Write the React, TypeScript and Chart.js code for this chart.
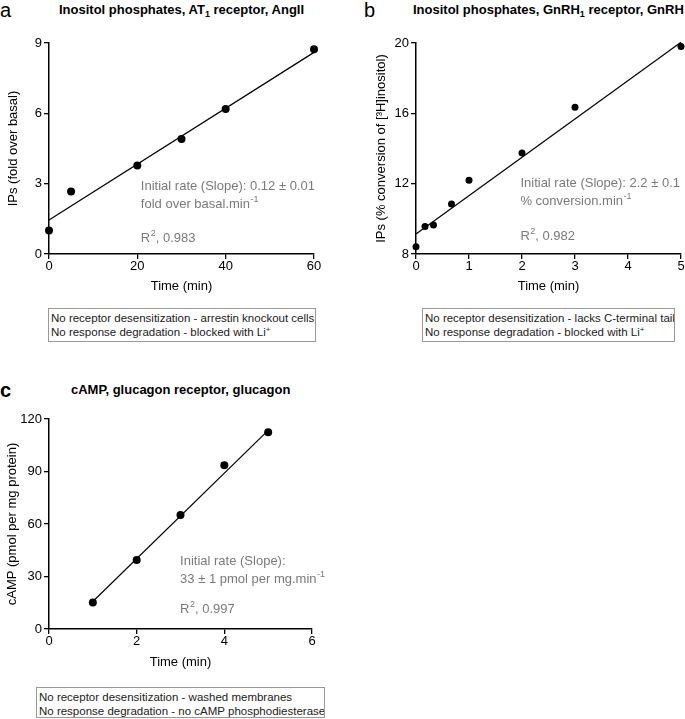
import React, { useEffect, useRef } from "react";
import { Chart, registerables } from "chart.js";

Chart.register(...registerables);

// ---------- Data ----------
// Panel a: Inositol phosphates, AT1 receptor, AngII
const timeA = [0, 5, 20, 30, 40, 60];
const ipsA = [1.0, 2.67, 3.78, 4.9, 6.18, 8.73];
const fitTimeA = [0, 60];
const fitIpsA = [1.45, 8.6];
const xTicksA = [0, 20, 40, 60];
const yTicksA = [0, 3, 6, 9];

// Panel b: Inositol phosphates, GnRH1 receptor, GnRH
const timeB = [0, 0.17, 0.33, 0.67, 1, 2, 3, 5];
const ipsB = [8.41, 9.57, 9.65, 10.84, 12.2, 13.75, 16.35, 19.8];
const fitTimeB = [0, 5];
const fitIpsB = [9.14, 20.04];
const xTicksB = [0, 1, 2, 3, 4, 5];
const yTicksB = [8, 12, 16, 20];

// Panel c: cAMP, glucagon receptor, glucagon
const timeC = [1, 2, 3, 4, 5];
const campC = [15.2, 39.5, 65.1, 93.6, 112.4];
const fitTimeC = [1, 5];
const fitCampC = [15.7, 113.5];
const xTicksC = [0, 2, 4, 6];
const yTicksC = [0, 30, 60, 90, 120];

const FONT = "'Liberation Sans', Arial, Helvetica, sans-serif";

type Seg = { t: string; sup?: boolean };
type TextLine = { x: number; y: number; segs: Seg[] };

const richTextPlugin = {
  id: "richText",
  afterDatasetsDraw(chart: any, _args: any, opts: any) {
    const lines: TextLine[] = opts.lines || [];
    const ctx = chart.ctx;
    const xs = chart.scales.x;
    const ys = chart.scales.y;
    ctx.save();
    ctx.fillStyle = opts.color || "#7a7a7a";
    ctx.textBaseline = "middle";
    ctx.textAlign = "left";
    for (const ln of lines) {
      let px = xs.getPixelForValue(ln.x);
      const py = ys.getPixelForValue(ln.y);
      for (const s of ln.segs) {
        if (s.sup) {
          ctx.font = `9px ${FONT}`;
          ctx.fillText(s.t, px + 0.5, py - 5);
          px += ctx.measureText(s.t).width + 0.5;
        } else {
          ctx.font = `13px ${FONT}`;
          ctx.fillText(s.t, px, py);
          px += ctx.measureText(s.t).width;
        }
      }
    }
    ctx.restore();
  },
};

type PanelCfg = {
  width: number;
  height: number;
  padTop: number;
  padRight: number;
  yWidth: number;
  xHeight: number;
  xMin: number;
  xMax: number;
  yMin: number;
  yMax: number;
  xTicks: number[];
  yTicks: number[];
  xs: number[];
  ys: number[];
  fitX: number[];
  fitY: number[];
  yTitle: string;
  yTitlePad: number;
  xTitlePad: number;
  pointRadius: number;
  lines: TextLine[];
};

function ChartPanel({ cfg, style }: { cfg: PanelCfg; style: React.CSSProperties }) {
  const ref = useRef<HTMLCanvasElement | null>(null);
  useEffect(() => {
    if (!ref.current) return;
    const axisCommon = (ticks: number[]) => ({
      type: "linear" as const,
      afterBuildTicks: (s: any) => {
        s.ticks = ticks.map((v) => ({ value: v }));
      },
      grid: {
        display: true,
        drawOnChartArea: false,
        drawTicks: true,
        tickLength: 5,
        color: "#000",
        lineWidth: 1.3,
      },
      border: { display: true, color: "#000", width: 1.5 },
    });
    const chart = new Chart(ref.current, {
      type: "scatter",
      data: {
        datasets: [
          {
            data: cfg.xs.map((x, i) => ({ x, y: cfg.ys[i] })),
            showLine: false,
            pointRadius: cfg.pointRadius,
            pointBackgroundColor: "#000",
            pointBorderColor: "#000",
            pointBorderWidth: 0,
            clip: false as any,
          },
          {
            data: cfg.fitX.map((x, i) => ({ x, y: cfg.fitY[i] })),
            showLine: true,
            pointRadius: 0,
            borderColor: "#000",
            borderWidth: 1.2,
            clip: false as any,
          },
        ],
      },
      options: {
        responsive: false,
        animation: false,
        devicePixelRatio: 1,
        layout: { padding: { left: 0, top: cfg.padTop, right: cfg.padRight, bottom: 0 } },
        plugins: {
          legend: { display: false },
          tooltip: { enabled: false },
          title: { display: false },
          richText: { lines: cfg.lines, color: "#7a7a7a" },
        } as any,
        scales: {
          x: {
            ...axisCommon(cfg.xTicks),
            min: cfg.xMin,
            max: cfg.xMax,
            position: "bottom",
            afterFit: (s: any) => {
              s.height = cfg.xHeight;
            },
            ticks: { color: "#000", font: { family: FONT, size: 13 }, padding: 0, maxRotation: 0, autoSkip: false },
            title: {
              display: true,
              text: "Time (min)",
              color: "#000",
              font: { family: FONT, size: 13 },
              padding: { top: 0, bottom: cfg.xTitlePad },
            },
          },
          y: {
            ...axisCommon(cfg.yTicks),
            min: cfg.yMin,
            max: cfg.yMax,
            position: "left",
            afterFit: (s: any) => {
              s.width = cfg.yWidth;
            },
            ticks: { color: "#000", font: { family: FONT, size: 13 }, padding: 2, autoSkip: false },
            title: {
              display: true,
              text: cfg.yTitle,
              color: "#000",
              font: { family: FONT, size: 13 },
              padding: { top: cfg.yTitlePad, bottom: 0 },
            },
          },
        } as any,
      },
      plugins: [richTextPlugin],
    });
    return () => chart.destroy();
  }, [cfg]);
  return <canvas ref={ref} width={cfg.width} height={cfg.height} style={{ position: "absolute", ...style }} />;
}

const panelA: PanelCfg = {
  width: 340, height: 300, padTop: 43, padRight: 26, yWidth: 49, xHeight: 46,
  xMin: 0, xMax: 60, yMin: 0, yMax: 9, xTicks: xTicksA, yTicks: yTicksA,
  xs: timeA, ys: ipsA, fitX: fitTimeA, fitY: fitIpsA,
  yTitle: "IPs (fold over basal)", yTitlePad: 6, xTitlePad: 6, pointRadius: 4,
  lines: [
    { x: 20.8, y: 2.87, segs: [{ t: "Initial rate (Slope): 0.12 \u00b1 0.01" }] },
    { x: 20.8, y: 2.13, segs: [{ t: "fold over basal.min" }, { t: "-1", sup: true }] },
    { x: 20.8, y: 0.68, segs: [{ t: "R" }, { t: "2", sup: true }, { t: ", 0.983" }] },
  ],
};

const panelB: PanelCfg = {
  width: 345, height: 300, padTop: 43, padRight: 4, yWidth: 76, xHeight: 46,
  xMin: 0, xMax: 5, yMin: 8, yMax: 20, xTicks: xTicksB, yTicks: yTicksB,
  xs: timeB, ys: ipsB, fitX: fitTimeB, fitY: fitIpsB,
  yTitle: "IPs (% conversion of [\u00b3H]inositol)", yTitlePad: 34, xTitlePad: 6, pointRadius: 3.5,
  lines: [
    { x: 1.97, y: 12.03, segs: [{ t: "Initial rate (Slope): 2.2 \u00b1 0.1" }] },
    { x: 1.97, y: 10.97, segs: [{ t: "% conversion.min" }, { t: "-1", sup: true }] },
    { x: 1.97, y: 9.02, segs: [{ t: "R" }, { t: "2", sup: true }, { t: ", 0.982" }] },
  ],
};

const panelC: PanelCfg = {
  width: 340, height: 300, padTop: 39, padRight: 28, yWidth: 49, xHeight: 51,
  xMin: 0, xMax: 6, yMin: 0, yMax: 120, xTicks: xTicksC, yTicks: yTicksC,
  xs: timeC, ys: campC, fitX: fitTimeC, fitY: fitCampC,
  yTitle: "cAMP (pmol per mg protein)", yTitlePad: 5, xTitlePad: 10, pointRadius: 4,
  lines: [
    { x: 2.99, y: 38.5, segs: [{ t: "Initial rate (Slope):" }] },
    { x: 2.99, y: 28.1, segs: [{ t: "33 \u00b1 1 pmol per mg.min" }, { t: "-1", sup: true }] },
    { x: 2.99, y: 11.0, segs: [{ t: "R" }, { t: "2", sup: true }, { t: ", 0.997" }] },
  ],
};

const titleStyle = (left: number, top: number): React.CSSProperties => ({
  position: "absolute",
  left,
  top,
  height: 18,
  lineHeight: "18px",
  fontFamily: FONT,
  fontWeight: "bold",
  fontSize: 13,
  color: "#000",
  whiteSpace: "nowrap",
});

const letterStyle = (left: number, top: number, bold = false): React.CSSProperties => ({
  position: "absolute",
  left,
  top,
  height: 22,
  lineHeight: "22px",
  fontFamily: FONT,
  fontSize: 20,
  fontWeight: bold ? "bold" : "normal",
  color: "#000",
});

const boxStyle = (left: number, top: number, width: number, height: number): React.CSSProperties => ({
  position: "absolute",
  left,
  top,
  width,
  height,
  boxSizing: "border-box",
  border: "1px solid #999",
  fontFamily: FONT,
  fontSize: 11.5,
  lineHeight: "14px",
  padding: "2px 0 0 2px",
  color: "#222",
  whiteSpace: "nowrap",
  overflow: "hidden",
});

const subStyle: React.CSSProperties = { fontSize: 9, position: "relative", top: 3 };
const supStyle: React.CSSProperties = { fontSize: 8, position: "relative", top: -4 };

export default function App() {
  return (
    <div
      style={{
        position: "absolute",
        left: 0,
        top: 0,
        width: 685,
        height: 719,
        overflow: "hidden",
        background: "#fff",
      }}
    >
      <div style={letterStyle(0, -1)}>a</div>
      <div style={titleStyle(59, 1)}>
        Inositol phosphates, AT<span style={subStyle}>1</span> receptor, AngII
      </div>
      <ChartPanel cfg={panelA} style={{ left: 0, top: 0 }} />
      <div style={boxStyle(48, 308, 268, 34)}>
        No receptor desensitization - arrestin knockout cells
        <br />
        No response degradation - blocked with Li<span style={supStyle}>+</span>
      </div>

      <div style={letterStyle(364, -1)}>b</div>
      <div style={titleStyle(413, 1)}>
        Inositol phosphates, GnRH<span style={subStyle}>1</span> receptor, GnRH
      </div>
      <ChartPanel cfg={panelB} style={{ left: 340, top: 0 }} />
      <div style={boxStyle(422, 308, 253, 34)}>
        No receptor desensitization - lacks C-terminal tail
        <br />
        No response degradation - blocked with Li<span style={supStyle}>+</span>
      </div>

      <div style={letterStyle(0, 379, true)}>c</div>
      <div style={titleStyle(71, 381)}>cAMP, glucagon receptor, glucagon</div>
      <ChartPanel cfg={panelC} style={{ left: 0, top: 380 }} />
      <div style={boxStyle(36, 687, 289, 31)}>
        No receptor desensitization - washed membranes
        <br />
        No response degradation - no cAMP phosphodiesterase
      </div>
    </div>
  );
}
